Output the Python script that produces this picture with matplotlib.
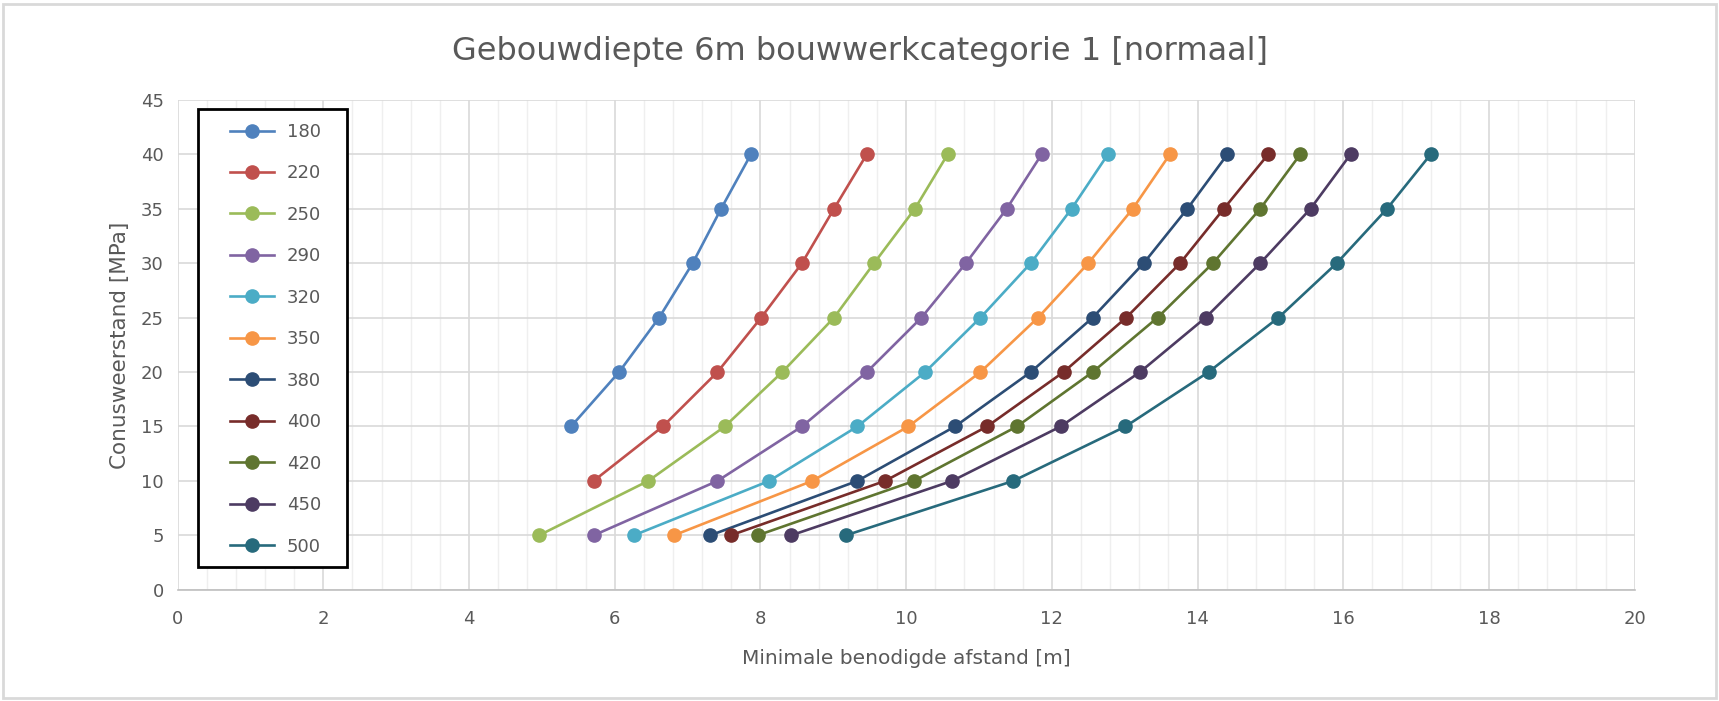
import matplotlib

matplotlib.use("Agg")
import matplotlib.pyplot as plt
from matplotlib.patches import Rectangle
from matplotlib.ticker import MultipleLocator

# cone resistance levels [MPa]
qc = [5, 10, 15, 20, 25, 30, 35, 40]

labels = ["180", "220", "250", "290", "320", "350", "380", "400", "420", "450", "500"]
colors = ["#4F81BD", "#C0504D", "#9BBB59", "#8064A2", "#4BACC6", "#F79646",
          "#2C4D75", "#772C2A", "#5F7530", "#4D3B62", "#276A7C"]

# minimum required distance [m] per series, None where no point
d180 = [None, None, 5.40, 6.06, 6.61, 7.07, 7.46, 7.87]
d220 = [None, 5.71, 6.66, 7.41, 8.01, 8.57, 9.01, 9.46]
d250 = [4.96, 6.46, 7.51, 8.30, 9.01, 9.56, 10.12, 10.57]
d290 = [5.71, 7.41, 8.57, 9.46, 10.21, 10.82, 11.38, 11.86]
d320 = [6.26, 8.12, 9.33, 10.26, 11.02, 11.71, 12.27, 12.77]
d350 = [6.81, 8.71, 10.03, 11.02, 11.81, 12.50, 13.11, 13.62]
d380 = [7.31, 9.33, 10.67, 11.71, 12.56, 13.26, 13.86, 14.41]
d400 = [7.59, 9.71, 11.11, 12.16, 13.02, 13.76, 14.36, 14.97]
d420 = [7.96, 10.11, 11.52, 12.56, 13.45, 14.21, 14.86, 15.41]
d450 = [8.42, 10.63, 12.12, 13.21, 14.11, 14.86, 15.55, 16.10]
d500 = [9.17, 11.47, 13.01, 14.15, 15.11, 15.91, 16.60, 17.20]
series = [d180, d220, d250, d290, d320, d350, d380, d400, d420, d450, d500]

txt = "#595959"

fig = plt.figure(figsize=(17.19, 7.01), dpi=100)
fig.patches.append(Rectangle((0.002, 0.004), 0.996, 0.99, transform=fig.transFigure,
                             fill=False, edgecolor="#D9D9D9", linewidth=2))
ax = fig.add_axes([0.1033, 0.1586, 0.8477, 0.699])

for vals, lab, c in zip(series, labels, colors):
    pts = [(x, y) for x, y in zip(vals, qc) if x is not None]
    ax.plot([p[0] for p in pts], [p[1] for p in pts], "-o", color=c, lw=1.9,
            ms=9.5, label=lab, zorder=3)

ax.set_xlim(0, 20)
ax.set_ylim(0, 45)
ax.xaxis.set_major_locator(MultipleLocator(2))
ax.xaxis.set_minor_locator(MultipleLocator(0.4))
ax.yaxis.set_major_locator(MultipleLocator(5))
ax.grid(which="major", color="#D9D9D9", lw=1.2, zorder=0)
ax.grid(which="minor", axis="x", color="#EFEFEF", lw=1.0, zorder=0)
ax.set_axisbelow(True)
for s in ("top", "right", "left"):
    ax.spines[s].set_visible(False)
ax.spines["bottom"].set_color("#BFBFBF")
ax.spines["bottom"].set_linewidth(1.2)
ax.tick_params(which="both", length=0, labelsize=13, colors=txt)
ax.tick_params(axis="x", pad=14.5)
ax.tick_params(axis="y", pad=10)

ax.set_xlabel("Minimale benodigde afstand [m]", fontsize=14.5, color=txt, labelpad=15)
ax.set_ylabel("Conusweerstand [MPa]", fontsize=15.5, color=txt, labelpad=8)
fig.suptitle("Gebouwdiepte 6m bouwwerkcategorie 1 [normaal]", fontsize=23, color=txt,
             y=0.949)

# legend frame drawn separately so the inner padding can match
ax.add_patch(Rectangle((0.0143, 0.047), 0.1023, 0.935, transform=ax.transAxes,
                       fill=True, facecolor="white", edgecolor="black", lw=2, zorder=4))
leg = ax.legend(loc="upper left", bbox_to_anchor=(0.0361, 0.953), fontsize=13,
                labelspacing=1.30, handlelength=2.43, handletextpad=0.7,
                borderpad=0, borderaxespad=0, frameon=False, labelcolor=txt)
leg.set_zorder(5)

fig.savefig("out.png", dpi=100)
